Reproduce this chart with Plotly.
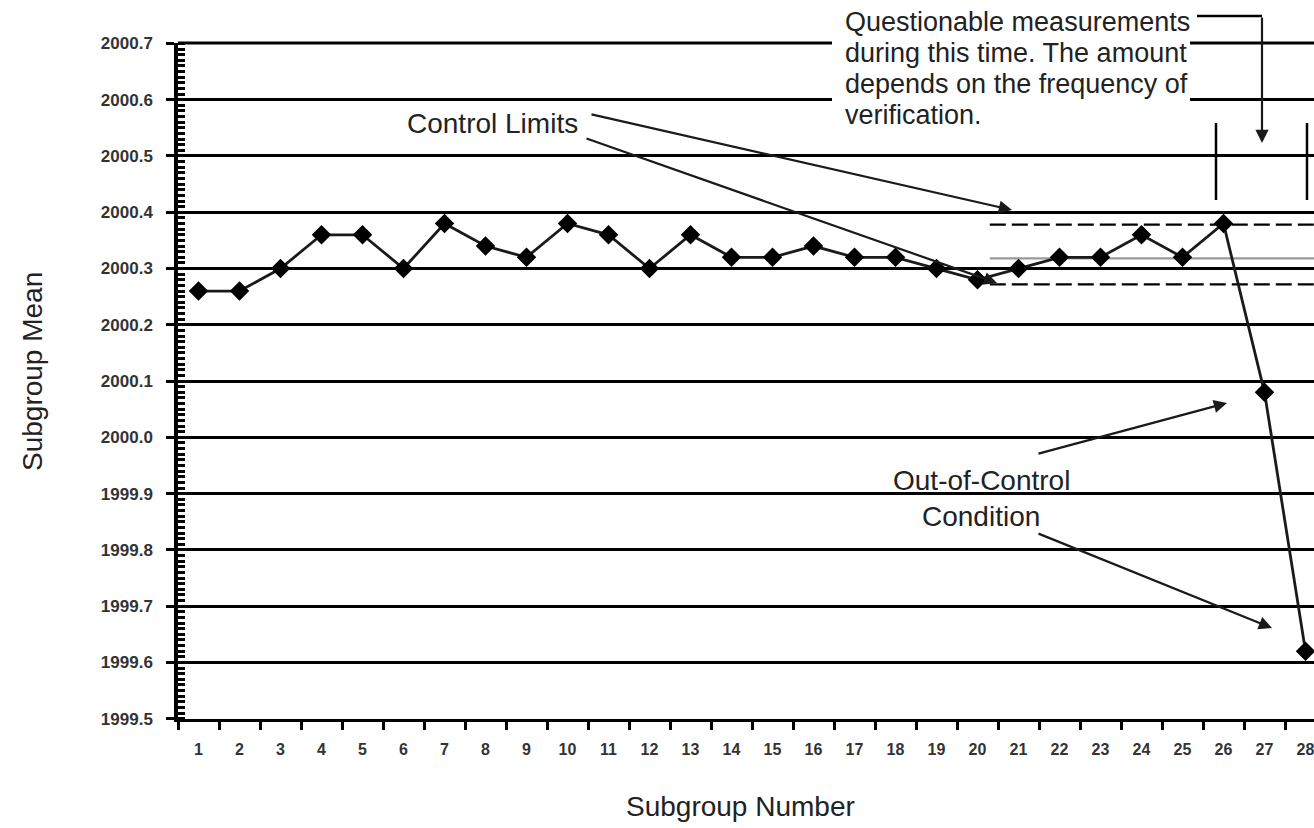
import plotly.graph_objects as go

# ---- data ----
subgroups = list(range(1, 29))
subgroup_means = [2000.26, 2000.26, 2000.30, 2000.36, 2000.36, 2000.30, 2000.38,
                  2000.34, 2000.32, 2000.38, 2000.36, 2000.30, 2000.36, 2000.32,
                  2000.32, 2000.34, 2000.32, 2000.32, 2000.30, 2000.28, 2000.30,
                  2000.32, 2000.32, 2000.36, 2000.32, 2000.38, 2000.08, 1999.62]
limit_x = [20.3, 28.6]
ucl = 2000.378
center_line = 2000.318
lcl = 2000.272
y_ticks = [1999.5, 1999.6, 1999.7, 1999.8, 1999.9, 2000.0, 2000.1,
           2000.2, 2000.3, 2000.4, 2000.5, 2000.6, 2000.7]

W, H = 1314, 828
L, R, T, B = 178, 0, 43, 109
PW, PH = W - L - R, H - T - B


def px(x):
    return (x - L) / PW


def py(y):
    return (H - B - y) / PH


FONT = "Liberation Sans, Arial, sans-serif"
TXT = "#222222"

fig = go.Figure()

fig.add_trace(go.Scatter(x=limit_x, y=[ucl, ucl], mode="lines",
                         line=dict(color="black", width=2.2, dash="16px,6px"),
                         hoverinfo="skip", showlegend=False))
fig.add_trace(go.Scatter(x=limit_x, y=[center_line, center_line], mode="lines",
                         line=dict(color="#9a9a9a", width=2.2),
                         hoverinfo="skip", showlegend=False))
fig.add_trace(go.Scatter(x=limit_x, y=[lcl, lcl], mode="lines",
                         line=dict(color="black", width=2.2, dash="16px,6px"),
                         hoverinfo="skip", showlegend=False))

fig.add_trace(go.Scatter(x=subgroups, y=subgroup_means, mode="lines+markers",
                         line=dict(color="#1a1a1a", width=2.8),
                         marker=dict(symbol="diamond", size=15, color="black"),
                         showlegend=False, cliponaxis=False))

shapes = [
    # top gridline (2000.7) at the upper edge of the plot area
    dict(type="line", xref="paper", yref="paper", x0=0, x1=1, y0=1, y1=1,
         line=dict(color="black", width=3), layer="above"),
    # white box behind the note text
    dict(type="rect", xref="paper", yref="paper", x0=px(832), x1=px(1190),
         y0=py(128), y1=py(0), fillcolor="white", line=dict(width=0), layer="above"),
    # leader line of the note
    dict(type="line", xref="paper", yref="paper", x0=px(1197), x1=px(1262),
         y0=py(16), y1=py(16), line=dict(color="black", width=2.5)),
    # interval markers
    dict(type="line", xref="paper", yref="paper", x0=px(1216), x1=px(1216),
         y0=py(200), y1=py(123), line=dict(color="black", width=2.5)),
    dict(type="line", xref="paper", yref="paper", x0=px(1307), x1=px(1307),
         y0=py(200), y1=py(123), line=dict(color="black", width=2.5)),
]

annotations = []
note_lines = ["Questionable measurements", "during this time. The amount",
              "depends on the frequency of", "verification."]
for i, t in enumerate(note_lines):
    annotations.append(dict(text=t, xref="paper", yref="paper", x=px(843),
                            y=py(22 + 31 * i), xanchor="left", yanchor="middle",
                            showarrow=False, font=dict(family=FONT, size=27, color=TXT)))

annotations += [
    dict(text="Control Limits", xref="paper", yref="paper", x=px(405), y=py(123),
         xanchor="left", yanchor="middle", showarrow=False,
         font=dict(family=FONT, size=28, color=TXT)),
    dict(text="Out-of-Control", xref="paper", yref="paper", x=px(981), y=py(480),
         xanchor="center", yanchor="middle", showarrow=False,
         font=dict(family=FONT, size=28, color=TXT)),
    dict(text="Condition", xref="paper", yref="paper", x=px(981), y=py(516),
         xanchor="center", yanchor="middle", showarrow=False,
         font=dict(family=FONT, size=28, color=TXT)),
    dict(text="Subgroup Mean", xref="paper", yref="paper", x=px(32), y=py(372),
         xanchor="center", yanchor="middle", textangle=-90, showarrow=False,
         font=dict(family=FONT, size=28, color=TXT)),
    dict(text="Subgroup Number", xref="paper", yref="paper", x=px(740), y=py(806),
         xanchor="center", yanchor="middle", showarrow=False,
         font=dict(family=FONT, size=28, color=TXT)),
]

arrows = [
    ((590, 114), (1012, 210)),
    ((585, 138), (997, 283)),
    ((1037, 454), (1227, 403)),
    ((1037, 533), (1272, 628)),
    ((1262, 16), (1262, 143)),
]
for (tx, ty), (hx, hy) in arrows:
    annotations.append(dict(text="", xref="paper", yref="paper", x=px(hx), y=py(hy),
                            ax=tx - hx, ay=ty - hy, showarrow=True, arrowhead=2,
                            arrowsize=1.2, arrowwidth=2.2, arrowcolor="#1a1a1a",
                            standoff=0))

fig.update_layout(
    width=W, height=H,
    margin=dict(l=L, r=R, t=T, b=B, autoexpand=False),
    paper_bgcolor="white", plot_bgcolor="white",
    shapes=shapes, annotations=annotations,
    font=dict(family=FONT, color=TXT),
)

fig.update_xaxes(
    range=[0.5, 0.5 + PW / 41.0], tickmode="array", tickvals=subgroups,
    ticktext=[str(s) for s in subgroups], ticks="", showgrid=False,
    showline=True, linecolor="black", linewidth=3, zeroline=False,
    tickfont=dict(family=FONT, size=16, color="#333333", weight="bold"),
    ticklabelstandoff=14, ticklabeloverflow="allow",
    minor=dict(tickmode="linear", tick0=0.5, dtick=1, ticks="outside",
               ticklen=8, tickwidth=3, tickcolor="black", showgrid=False),
)

fig.update_yaxes(
    range=[1999.4995, 2000.7008], tickmode="array", tickvals=y_ticks,
    ticktext=[f"{v:.1f}" for v in y_ticks], ticks="outside", ticklen=8,
    tickwidth=3, tickcolor="black", showgrid=True, gridcolor="black",
    gridwidth=3, showline=True, linecolor="black", linewidth=3.5, zeroline=False,
    tickfont=dict(family=FONT, size=17, color="#333333", weight="bold"),
    ticklabelstandoff=10,
    minor=dict(tickmode="linear", tick0=1999.5, dtick=0.01, ticks="inside",
               ticklen=7, tickwidth=2.5, tickcolor="black", showgrid=False),
)

fig.write_html("out.html", config={"displayModeBar": False},
               post_script="document.body.style.margin='0px';document.body.style.overflow='hidden';")
